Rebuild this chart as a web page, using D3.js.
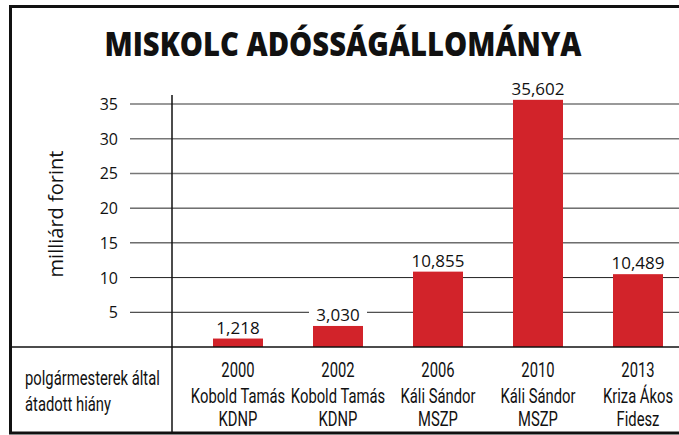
<!DOCTYPE html>
<html>
<head>
<meta charset="utf-8">
<script src="https://cdn.jsdelivr.net/npm/d3@7"></script>
<style>
  body { margin: 0; background: #fff; }
  svg { display: block; }
  text { fill: #111; }
</style>
</head>
<body>
<div id="chart"></div>
<script>
// data
const years = ['2000', '2002', '2006', '2010', '2013'];
const mayors = ['Kobold Tamás', 'Kobold Tamás', 'Káli Sándor', 'Káli Sándor', 'Kriza Ákos'];
const parties = ['KDNP', 'KDNP', 'MSZP', 'MSZP', 'Fidesz'];
const debt = [1.218, 3.030, 10.855, 35.602, 10.489];
const debtLabels = ['1,218', '3,030', '10,855', '35,602', '10,489'];
const yTicks = [5, 10, 15, 20, 25, 30, 35];
const rowHeader = ['polgármesterek által', 'átadott hiány'];

let width = 679,
    height = 435;

let svg = d3.select('#chart').append('svg')
    .attr('width', width)
    .attr('height', height);

// no condensed face installed, so squeeze Roboto horizontally
const narrow = 'Roboto, "Liberation Sans", sans-serif';
const squeeze = 0.74;
const regular = '"Open Sans", "Noto Sans", sans-serif';

let x = d3.scaleBand()
    .domain(years)
    .range([188, 688])
    .paddingInner(0.5)
    .paddingOuter(0.25);

let y = d3.scaleLinear()
    .domain([0, 35])
    .range([347, 104]);

// gridlines
svg.append('g')
    .selectAll('line')
    .data(yTicks)
    .join('line')
    .attr('x1', 130)
    .attr('x2', width)
    .attr('y1', d => y(d))
    .attr('y2', d => y(d))
    .attr('stroke', d => d >= 25 ? '#777' : '#222')
    .attr('stroke-width', d => d >= 25 ? 1.5 : 1);

// tick labels
svg.append('g')
    .selectAll('text')
    .data(yTicks)
    .join('text')
    .attr('x', 118)
    .attr('y', d => y(d) + 6)
    .attr('text-anchor', 'end')
    .style('font-family', regular)
    .style('font-size', '16px')
    .text(d => d);

// axis title
svg.append('text')
    .attr('transform', 'translate(63, 214) rotate(-90)')
    .attr('text-anchor', 'middle')
    .style('font-family', regular)
    .style('font-size', '20px')
    .text('milliárd forint');

// value labels with white backing
let labels = svg.append('g')
    .selectAll('g')
    .data(debt)
    .join('g')
    .attr('transform', (d, i) => `translate(${x(years[i]) + x.bandwidth() / 2}, ${y(d) - 5})`);

labels.append('rect')
    .attr('x', -29)
    .attr('y', -15)
    .attr('width', 58)
    .attr('height', 17)
    .attr('fill', '#fff');

labels.append('text')
    .attr('text-anchor', 'middle')
    .style('font-family', regular)
    .style('font-size', '17px')
    .text((d, i) => debtLabels[i]);

// bars
svg.append('g')
    .selectAll('rect')
    .data(debt)
    .join('rect')
    .attr('x', (d, i) => x(years[i]))
    .attr('y', d => y(d))
    .attr('width', x.bandwidth())
    .attr('height', d => y(0) - y(d))
    .attr('fill', '#d2232a');

// frame
svg.append('line')
    .attr('x1', 172).attr('x2', 172)
    .attr('y1', 95).attr('y2', 433)
    .attr('stroke', '#111').attr('stroke-width', 1.5);

svg.append('line')
    .attr('x1', 10).attr('x2', width)
    .attr('y1', y(0)).attr('y2', y(0))
    .attr('stroke', '#111').attr('stroke-width', 1.5);

svg.append('path')
    .attr('d', `M${width},6.5 H10.5 V433 H${width}`)
    .attr('fill', 'none')
    .attr('stroke', '#111')
    .attr('stroke-width', 3);

// title
svg.append('text')
    .attr('x', 343)
    .attr('y', 56)
    .attr('text-anchor', 'middle')
    .attr('textLength', 477)
    .attr('lengthAdjust', 'spacingAndGlyphs')
    .style('font-family', '"Open Sans", "Noto Sans", sans-serif')
    .style('font-weight', 800)
    .style('font-size', '33px')
    .text('MISKOLC ADÓSSÁGÁLLOMÁNYA');

// category labels
let cats = svg.append('g')
    .selectAll('g')
    .data(years)
    .join('g')
    .attr('transform', d => `translate(${x(d) + x.bandwidth() / 2}, 0) scale(${squeeze}, 1)`);

let catLines = [years, mayors, parties];
let catY = [377, 403, 426];

catLines.forEach((lines, row) => {
    cats.append('text')
        .attr('y', catY[row])
        .attr('text-anchor', 'middle')
        .style('font-family', narrow)
        .style('font-size', '20px')
        .text((d, i) => lines[i]);
});

// row header
svg.append('g')
    .attr('transform', `translate(25, 0) scale(${squeeze}, 1)`)
    .selectAll('text')
    .data(rowHeader)
    .join('text')
    .attr('y', (d, i) => 385 + i * 26)
    .style('font-family', narrow)
    .style('font-size', '20px')
    .text(d => d);
</script>
</body>
</html>
